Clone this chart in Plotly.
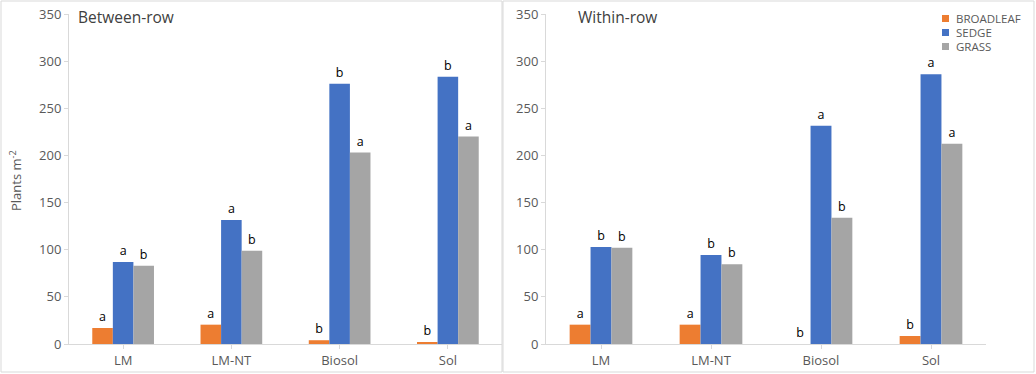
import plotly.graph_objects as go

categories = ["LM", "LM-NT", "Biosol", "Sol"]
series_names = ["BROADLEAF", "SEDGE", "GRASS"]

# Between-row values
between_broadleaf = [17, 20.5, 4, 2]
between_sedge = [87, 131.5, 276, 283.5]
between_grass = [83, 99, 203, 220]
between_letters_broadleaf = ["a", "a", "b", "b"]
between_letters_sedge = ["a", "a", "b", "b"]
between_letters_grass = ["b", "b", "a", "a"]

# Within-row values
within_broadleaf = [20.5, 20.5, 0, 8.5]
within_sedge = [103, 94.5, 231.5, 286]
within_grass = [102, 84.5, 134, 212.5]
within_letters_broadleaf = ["a", "a", "b", "b"]
within_letters_sedge = ["b", "b", "a", "a"]
within_letters_grass = ["b", "b", "b", "a"]

y_ticks = [0, 50, 100, 150, 200, 250, 300, 350]

colors = ["#ED7D31", "#4472C4", "#A5A5A5"]
FONT = "Open Sans"
W, H = 1036, 374

fig = go.Figure()

panels = [
    ("x", "y", [between_broadleaf, between_sedge, between_grass],
     [between_letters_broadleaf, between_letters_sedge, between_letters_grass]),
    ("x2", "y2", [within_broadleaf, within_sedge, within_grass],
     [within_letters_broadleaf, within_letters_sedge, within_letters_grass]),
]

for xa, ya, vals, letters in panels:
    for name, v, t, c in zip(series_names, vals, letters, colors):
        fig.add_trace(go.Bar(
            x=categories, y=v, name=name, marker_color=c, marker_line_width=0,
            text=t, textposition="outside", cliponaxis=False,
            textfont=dict(family=FONT, size=12.5, color="#000000"),
            xaxis=xa, yaxis=ya, showlegend=False,
        ))

def px_x(p):
    return p / W

def px_y(p):
    return 1 - p / H

ydom = [px_y(344), px_y(14)]
axis_common = dict(
    showgrid=False, zeroline=False, showline=True, linecolor="#D9D9D9", linewidth=1,
    tickfont=dict(family=FONT, size=13, color="#595959"),
)
fig.update_layout(
    width=W, height=H, margin=dict(l=0, r=0, t=0, b=0, autoexpand=False),
    paper_bgcolor="white", plot_bgcolor="white",
    barmode="group", bargap=0.43, bargroupgap=0,
    xaxis=dict(domain=[px_x(69), px_x(502)], anchor="y", ticks="outside", ticklen=4,
               tickcolor="#D9D9D9", automargin=False, **axis_common),
    yaxis=dict(domain=ydom, anchor="x", range=[0, 350], tickvals=y_ticks,
               ticks="outside", ticklen=4, tickcolor="#D9D9D9", automargin=False,
               **axis_common),
    xaxis2=dict(domain=[px_x(546), px_x(986)], anchor="y2", ticks="outside", ticklen=4,
                tickcolor="#D9D9D9", automargin=False, **axis_common),
    yaxis2=dict(domain=ydom, anchor="x2", range=[0, 350], tickvals=y_ticks,
                ticks="outside", ticklen=4, tickcolor="#D9D9D9", automargin=False,
                **axis_common),
    showlegend=False,
)

# Panel frames
for x0, x1 in [(1, 502), (503, 1034)]:
    fig.add_shape(type="rect", xref="paper", yref="paper",
                  x0=px_x(x0), x1=px_x(x1), y0=px_y(372), y1=px_y(1),
                  line=dict(color="#D9D9D9", width=1))

# Legend (drawn manually to match the compact Excel-style legend)
for i, (name, c) in enumerate(zip(series_names, colors)):
    yc = 18.5 + i * 14
    fig.add_shape(type="rect", xref="paper", yref="paper",
                  x0=px_x(942), x1=px_x(949), y0=px_y(yc + 3.5), y1=px_y(yc - 3.5),
                  fillcolor=c, line=dict(width=0))
    fig.add_annotation(text=name, xref="paper", yref="paper",
                       x=px_x(954), y=px_y(yc), xanchor="left", yanchor="middle",
                       showarrow=False, font=dict(family=FONT, size=11.5, color="#595959"))

# Panel titles
fig.add_annotation(text="Between-row", xref="paper", yref="paper",
                   x=px_x(76), y=px_y(17), xanchor="left", yanchor="middle",
                   showarrow=False, font=dict(family=FONT, size=15.5, color="#404040"))
fig.add_annotation(text="Within-row", xref="paper", yref="paper",
                   x=px_x(576), y=px_y(17), xanchor="left", yanchor="middle",
                   showarrow=False, font=dict(family=FONT, size=15.5, color="#404040"))
# Y-axis title
fig.add_annotation(text="Plants m<sup>-2</sup>", xref="paper", yref="paper",
                   x=px_x(16), y=px_y(181), xanchor="center", yanchor="middle",
                   textangle=-90, showarrow=False,
                   font=dict(family=FONT, size=13, color="#595959"))

fig.write_html("out.html", config={"displayModeBar": False},
               post_script="document.body.style.margin='0';document.body.style.overflow='hidden';")
